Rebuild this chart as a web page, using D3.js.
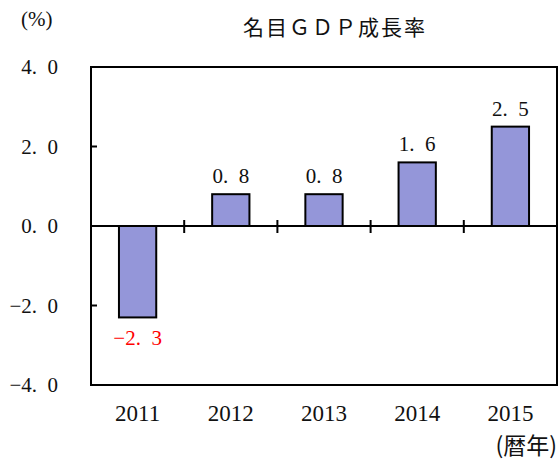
<!DOCTYPE html>
<html>
<head>
<meta charset="utf-8">
<script src="https://cdn.jsdelivr.net/npm/d3@7"></script>
<style>
  body { margin: 0; background: #fff; }
</style>
</head>
<body>
<div id="chart"></div>
<script>
// data
var years = ["2011", "2012", "2013", "2014", "2015"];
var growth = [-2.3, 0.8, 0.8, 1.6, 2.5];
var yTicks = [-4, -2, 0, 2, 4];
var title = "名目ＧＤＰ成長率";

var W = 559, H = 466;
var plotL = 91, plotR = 557, plotT = 67, plotB = 385;
var serif = "'Liberation Serif', 'DejaVu Serif', serif";
var cjk = "'Noto Sans CJK JP', 'Noto Sans CJK SC', sans-serif";

var svg = d3.select("#chart").append("svg")
    .attr("width", W)
    .attr("height", H);

var x = d3.scaleBand().domain(years).range([plotL, plotR])
    .paddingInner(0.6).paddingOuter(0.3);
var y = d3.scaleLinear().domain([-4, 4]).range([plotB, plotT]);

// number format like "4. 0"
function fmt(v) {
  var s = d3.format(".1f")(v).replace("-", "\u2212");
  return s.replace(".", ".\u2002");
}

// bars
svg.selectAll("rect.bar")
    .data(growth)
    .enter().append("rect")
    .attr("class", "bar")
    .attr("x", function (d, i) { return x(years[i]); })
    .attr("y", function (d) { return y(Math.max(0, d)); })
    .attr("width", x.bandwidth())
    .attr("height", function (d) { return Math.abs(y(d) - y(0)); })
    .style("fill", "#9496d9")
    .style("stroke", "#000")
    .style("stroke-width", 2);

// frame
svg.append("rect")
    .attr("x", plotL).attr("y", plotT)
    .attr("width", plotR - plotL).attr("height", plotB - plotT)
    .style("fill", "none")
    .style("stroke", "#000")
    .style("stroke-width", 2);

// zero line
svg.append("line")
    .attr("x1", plotL).attr("x2", plotR)
    .attr("y1", y(0)).attr("y2", y(0))
    .style("stroke", "#000")
    .style("stroke-width", 2);

// category separators on zero line
var step = x.step();
years.slice(1).forEach(function (yr) {
  var bx = x(yr) - (step - x.bandwidth()) / 2;
  svg.append("line")
      .attr("x1", bx).attr("x2", bx)
      .attr("y1", y(0) - 6).attr("y2", y(0) + 7)
      .style("stroke", "#000")
      .style("stroke-width", 2);
});

// y ticks (inward) and labels
yTicks.forEach(function (t) {
  svg.append("line")
      .attr("x1", plotL).attr("x2", plotL + 6)
      .attr("y1", y(t)).attr("y2", y(t))
      .style("stroke", "#000")
      .style("stroke-width", 2);
  svg.append("text")
      .attr("x", 58)
      .attr("y", y(t) + 7)
      .style("text-anchor", "end")
      .style("font-family", serif)
      .style("font-size", "21px")
      .style("fill", "#111")
      .text(fmt(t));
});

// value labels
svg.selectAll("text.val")
    .data(growth)
    .enter().append("text")
    .attr("class", "val")
    .attr("x", function (d, i) { return x(years[i]) + x.bandwidth() / 2; })
    .attr("y", function (d) { return d >= 0 ? y(d) - 11 : y(d) + 28; })
    .style("text-anchor", "middle")
    .style("font-family", serif)
    .style("font-size", "21px")
    .style("fill", function (d) { return d < 0 ? "#ff0000" : "#111"; })
    .text(function (d) { return fmt(d); });

// category labels
svg.selectAll("text.cat")
    .data(years)
    .enter().append("text")
    .attr("class", "cat")
    .attr("x", function (d) { return x(d) + x.bandwidth() / 2; })
    .attr("y", 421)
    .style("text-anchor", "middle")
    .style("font-family", serif)
    .style("font-size", "23px")
    .style("fill", "#111")
    .text(function (d) { return d; });

// title
svg.append("text")
    .attr("x", 335)
    .attr("y", 35)
    .style("text-anchor", "middle")
    .style("font-family", cjk)
    .style("font-size", "21px")
    .style("letter-spacing", "2px")
    .style("fill", "#111")
    .text(title);

// unit labels
svg.append("text")
    .attr("x", 21)
    .attr("y", 26)
    .style("font-family", serif)
    .style("font-size", "21px")
    .style("fill", "#111")
    .text("(%)");

svg.append("text")
    .attr("x", 557)
    .attr("y", 454)
    .style("text-anchor", "end")
    .style("font-family", cjk)
    .style("font-size", "23px")
    .style("fill", "#111")
    .text("(暦年)");
</script>
</body>
</html>
